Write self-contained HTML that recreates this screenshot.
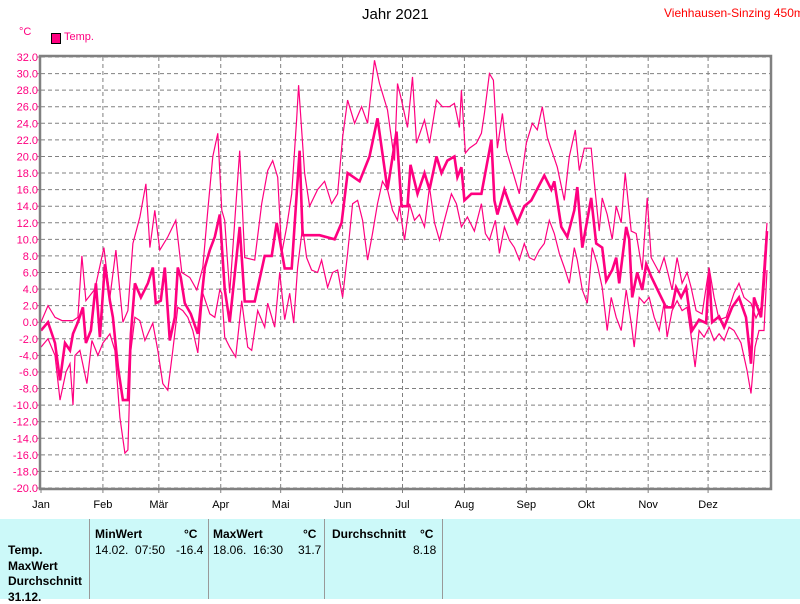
<!DOCTYPE html>
<html><head><meta charset="utf-8"><style>
body{margin:0;width:800px;height:599px;background:#fff;overflow:hidden;font-family:"Liberation Sans",sans-serif;position:relative}
.t{position:absolute;white-space:nowrap}
#tbl{position:absolute;left:0;top:519px;width:800px;height:80px;background:#ccf9f9}
.col{position:absolute;top:0;height:80px;border-left:1px solid #999}
.b{font-weight:bold;font-size:12px}
.s{font-size:12px}
</style></head><body>
<div class="t" style="left:362px;top:6px;font-size:15px">Jahr 2021</div>
<div class="t" style="left:664px;top:6px;font-size:12px;color:#f00">Viehhausen-Sinzing 450m</div>
<div class="t" style="left:19px;top:26px;font-size:11px;color:#ff0080">°C</div>
<div style="position:absolute;left:51px;top:33px;width:8px;height:9px;background:#ff0080;border:1px solid #000"></div>
<div class="t" style="left:64px;top:31px;font-size:11px;color:#ff0080">Temp.</div>
<svg id="chart" width="800" height="519" style="position:absolute;left:0;top:0"></svg>
<div id="tbl">
<div class="t b" style="left:8px;top:24px">Temp.</div>
<div class="t b" style="left:8px;top:40px">MaxWert</div>
<div class="t b" style="left:8px;top:55px">Durchschnitt</div>
<div class="t b" style="left:8px;top:71px">31.12.</div>
<div class="col" style="left:89px"></div><div class="col" style="left:208px"></div><div class="col" style="left:324px"></div><div class="col" style="left:442px"></div>
<div class="t b" style="left:95px;top:8px">MinWert</div>
<div class="t b" style="left:184px;top:8px">°C</div>
<div class="t s" style="left:95px;top:24px">14.02.&nbsp; 07:50</div>
<div class="t s" style="left:176px;top:24px">-16.4</div>
<div class="t b" style="left:213px;top:8px">MaxWert</div>
<div class="t b" style="left:303px;top:8px">°C</div>
<div class="t s" style="left:213px;top:24px">18.06.&nbsp; 16:30</div>
<div class="t s" style="left:298px;top:24px">31.7</div>
<div class="t b" style="left:332px;top:8px">Durchschnitt</div>
<div class="t b" style="left:420px;top:8px">°C</div>
<div class="t s" style="left:413px;top:24px">8.18</div>
</div>
<script>
const yTicks=[32,30,28,26,24,22,20,18,16,14,12,10,8,6,4,2,0,-2,-4,-6,-8,-10,-12,-14,-16,-18,-20];
const monthLabels=["Jan","Feb","Mär","Apr","Mai","Jun","Jul","Aug","Sep","Okt","Nov","Dez"];
const monthStarts=[0,31,59,90,120,151,181,212,243,273,304,334];
const meanDays=[0,3.5,7,9.5,12,14.5,16,18.5,21,22.5,25,27.5,29.5,32,34.5,36,38.5,41,43.5,45,47,50,53.5,56,57.5,60,62,64.5,67,68.5,70,72,75,78.5,82,84.5,87,89.5,92,94.5,99.5,102,107,112,115.5,118,122,125.5,129.5,131,139.5,147,150.5,153.5,159.5,164.5,168.5,173.5,178,180.5,183.5,185,188.5,192,194.5,198,200.5,203.5,207,208.5,210.5,212,215.5,220.5,225.5,227,228.5,232,234.5,238.5,242,245.5,252,255.5,257,260.5,263.5,267,268.5,271,275.5,278,281,283,286,288,289.5,293,294.5,296,298.5,301,303,305.5,309.5,313,316,318,320.5,323,326,329.5,333,334.5,336,339.5,342,346,349.5,353,355.5,357,360.5,362,363.5];
const meanVals=[-1,0,-2.5,-7,-2.5,-3.4,-1.4,0,1.8,-2.5,-1,4.7,-1.8,7,2.6,0.6,-5.4,-9.4,-9.4,-1.4,4.7,3,4.7,6.6,2.3,2.6,6.6,-2.2,0.6,6.6,5.4,2.3,1,-1.4,6.6,8.7,10.3,13,4,0,11.5,2.5,2.5,8,8,12,6.5,6.5,20.7,10.5,10.5,10,12,18,17,20,24.6,16,23,14,14,19,15.5,18,16,20,18,19.5,20,17.5,18.7,14.7,15.5,15.5,22,14.7,13,16,14.3,12,14,14.7,17.7,16,17,11.5,10.3,13.5,16.3,9,15,9.5,9,5,6.3,7.8,4.7,11.5,10,3,6,3.9,7,5.5,3.5,1.8,1.8,4.2,3,4.2,-1,0.3,-0.1,6,0,0.7,-0.6,1.8,3,0.6,-5,3,0.6,5,11];
const maxDays=[0,3.5,7,10.5,16,18.5,20.5,22.5,27,31.5,34.5,37.5,41,43.5,46,49.5,52.5,54.5,57,59.5,63.5,67.5,70.5,74.5,78,81,83.5,86,88.5,90.5,92,94.5,99.5,102,107,110.5,113.5,116,118.5,120.5,123,125.5,128,129,132,134.5,138.5,142,145.5,148.5,151,153.5,157,160.5,163.5,167,169.5,173.5,177,178.5,180.5,183.5,186,188,192,194.5,198,201,204.5,207,209.5,210.5,212.5,214.5,218,220.5,222,224.5,226.5,228.5,231,233,236,239.5,243,246,248.5,251,253.5,256,258.5,262,264.5,267.5,269.5,272,275.5,277,279.5,281,283.5,286,288,290.5,292.5,295.5,298,301,303.5,305.5,309.5,312,316,318.5,321,323.5,325.5,328,331,334.5,337,339.5,343,347,349.5,352,355.5,358,360.5,362,363.5];
const maxVals=[0,2,0.6,0.2,0.2,0.6,8,2.6,4,9,3,8.7,0,1.4,9.5,12.7,16.7,9,13.5,8.7,10.3,12.3,6,5.4,3.9,6.6,13.5,20,22.8,13.5,12.3,3.5,20.7,7.8,7.5,14.3,18.3,19.5,17.5,8.3,11.5,15.5,24.4,28.6,18,14,16,17,14.3,15.5,22.3,26.8,24,26,24,31.6,28.8,25.6,19.5,28.8,26.8,23.5,29.6,21.6,24.4,21.6,26.8,26,26,26.4,23.5,28,20.4,21,21.6,22.8,25.2,30,29.2,21,25.2,20.7,18.3,15.5,21.6,24,23.2,26,22.3,20.5,18.7,14.7,20,23.2,18.3,21,21,17,11,15,13,10,14,12,18,11,10.7,6.3,15,7.8,6,7.8,3.9,7.8,4.7,6,4.2,1.4,1,6.6,3,0.3,0.6,3.5,4.7,3,2.3,0.5,1.8,7,12];
const minDays=[0,3.5,7,9.5,12.5,14.5,16,17,19.5,23,25.5,28.5,31,34.5,37,39.5,42,43.5,45,47,49.5,52,56,58.5,61,63.5,66,68.5,71,73.5,76,78.5,81,84.5,87,89.5,90.5,92,94.5,97.5,100.5,103.5,105.5,108.5,112,113.5,117,119.5,122,124.5,126.5,128.5,131,133,135.5,138.5,140.5,143.5,146,148.5,151,153.5,156,158.5,161,163.5,166,168.5,171,173.5,176,178.5,179.5,182,184.5,187,189.5,192,194.5,197,199.5,202,205.5,208,210.5,213.5,217,220.5,222.5,224.5,227.5,229.5,232,234.5,237,239.5,242,244.5,247,249.5,252,254.5,257,259.5,262,264.5,267,268.5,271,273.5,276,278.5,281,283.5,285.5,288,290.5,293,295.5,297,299.5,302,304.5,307,309.5,312,313.5,316,318.5,321,323.5,326,327.5,329.5,332,334.5,337,339.5,342,344.5,347,350.5,353.5,355.5,357.5,359.5,362,363.5];
const minVals=[-3,-2,-4,-9.4,-6,-5,-10,-4,-3.4,-7.4,-2.2,-4,-2.5,-1.4,-3.4,-11.5,-15.8,-15.4,-3.4,0.6,0.2,-2.2,-0.1,-3.4,-7.4,-8.2,-3.4,1.8,1.4,0.6,-1,-3.7,3.5,1,0.6,3.9,3.5,-1.8,-3,-4.2,2.6,-3,-3.4,1.4,-0.6,2.3,-0.6,6,0.3,3.5,-0.1,6.6,11.5,7.8,6.3,6,7.5,4.2,6,6.3,3,8.3,14.3,14.7,12.3,7.5,10.7,14.3,17,16,13.5,12.3,14,9.9,14.3,12.3,13,11.5,16.3,12,9.9,12.3,15.5,14.3,11.5,12.7,11,14.3,10.7,9.9,12.3,8.3,11.5,9.9,9,7.5,9.5,7.8,7.5,8.7,9.5,12.3,10.7,8.3,6.6,4.7,9,7.5,3.9,2.3,9,7,4.2,-1,3,0.6,-1,3.9,-0.1,-3,3,2.3,3,0.6,-1,2.3,-1.8,1.4,2.6,1.4,1.8,-2.5,-5.4,-1,-1.8,-0.6,-2.2,-1.4,-2.2,-0.6,-1,-2.5,-5.8,-8.6,-3,-1,-1,6.3];

const svg=document.getElementById('chart');
const NS='http://www.w3.org/2000/svg';
const X0=41,X1=770,Y0=57,Y1=488;
function xs(d){return X0+d*(X1-X0)/365;}
function ys(v){return Y0+(32-v)*(Y1-Y0)/52;}
function mk(tag,attrs){const e=document.createElementNS(NS,tag);for(const k in attrs)e.setAttribute(k,attrs[k]);svg.appendChild(e);return e;}
yTicks.forEach(v=>{
  const y=ys(v);
  const g=mk('line',{x1:X0,x2:X1,y1:y,y2:y,stroke:'#808080','stroke-dasharray':'4,3','stroke-width':1});
  
  
  const tk=mk('line',{x1:X0-4,x2:X0,y1:y,y2:y,stroke:'#808080'});
  
  
  const t=mk('text',{x:X0-3,y:y+4,'text-anchor':'end','font-size':'11','fill':'#ff0080','font-family':'Liberation Sans, sans-serif'});
  t.textContent=v.toFixed(1);
  
  
});
monthStarts.forEach((d,i)=>{
  const x=xs(d);
  if(i>0){const g=mk('line',{x1:x,x2:x,y1:Y0,y2:Y1,stroke:'#808080','stroke-dasharray':'4,3'});
  
  }
  const tk=mk('line',{x1:x,x2:x,y1:Y1,y2:Y1+5,stroke:'#808080'});
  
  
  const t=mk('text',{x:x,y:508,'text-anchor':'middle','font-size':'11','fill':'#000','font-family':'Liberation Sans, sans-serif'});
  t.textContent=monthLabels[i];
  
  
});
function series(days,vals,w,name){
  const p=mk('polyline',{points:days.map((d,i)=>xs(d).toFixed(1)+','+ys(vals[i]).toFixed(1)).join(' '),fill:'none',stroke:'#ff0080','stroke-width':w,'stroke-linejoin':'miter'});
  
  
}
series(maxDays,maxVals,1.2,'max-temp-line');
series(minDays,minVals,1.2,'min-temp-line');
series(meanDays,meanVals,2.6,'mean-temp-line');
const fr=mk('rect',{x:X0-1,y:Y0-1,width:X1-X0+2,height:Y1-Y0+2,fill:'none',stroke:'#808080','stroke-width':2.5});


</script>
</body></html>
